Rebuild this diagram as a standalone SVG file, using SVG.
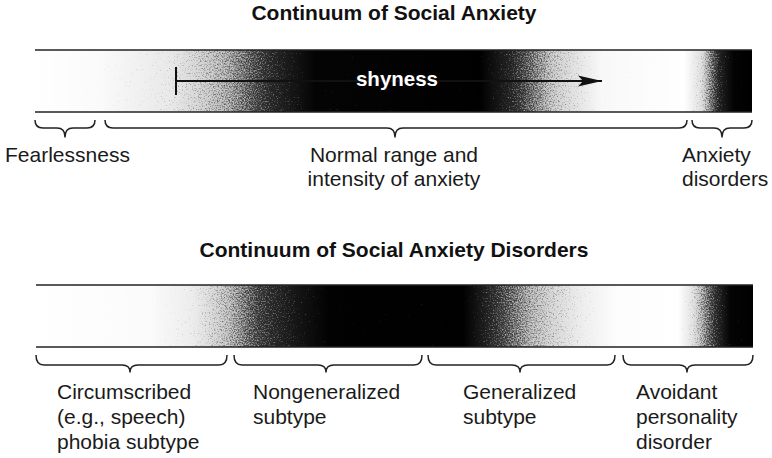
<svg xmlns="http://www.w3.org/2000/svg" width="772" height="458" viewBox="0 0 772 458">
<defs>
<style>
.title{font-family:"Liberation Sans",Arial,sans-serif;font-weight:bold;font-size:21px;fill:#111;text-anchor:middle}
.lbl{font-family:"Liberation Sans",Arial,sans-serif;font-size:21px;fill:#1a1a1a}
.edge{stroke:#222;stroke-width:1.6;fill:none}
.brace{stroke:#222;stroke-width:1.5;fill:none;stroke-linejoin:round}
.shy{font-family:"Liberation Sans",Arial,sans-serif;font-weight:bold;font-size:20.5px;fill:#fff;text-anchor:middle}
.bar{filter:url(#grain)}
</style>
<filter id="grain" x="0" y="0" width="100%" height="100%" color-interpolation-filters="sRGB">
<feTurbulence type="fractalNoise" baseFrequency="0.75" numOctaves="2" seed="7" result="n"/>
<feColorMatrix in="n" type="matrix" values="1 0 0 0 0.2  1 0 0 0 0.2  1 0 0 0 0.2  0 0 0 0 1" result="g"/>
<feComposite in="SourceGraphic" in2="g" operator="arithmetic" k1="0" k2="2.5" k3="-2.5" k4="1" result="d"/>
<feComposite in="SourceGraphic" in2="d" operator="arithmetic" k1="0" k2="0.55" k3="0.45" k4="0"/>
</filter>
<linearGradient id="g1" gradientUnits="userSpaceOnUse" x1="35" y1="0" x2="752" y2="0">
<stop offset="0" stop-color="#fff"/>
<stop offset="0.09" stop-color="#f6f6f6"/>
<stop offset="0.19" stop-color="#d6d6d6"/>
<stop offset="0.27" stop-color="#959595"/>
<stop offset="0.33" stop-color="#444"/>
<stop offset="0.39" stop-color="#080808"/>
<stop offset="0.62" stop-color="#000"/>
<stop offset="0.67" stop-color="#4a4a4a"/>
<stop offset="0.72" stop-color="#a8a8a8"/>
<stop offset="0.79" stop-color="#f2f2f2"/>
<stop offset="0.905" stop-color="#fff"/>
<stop offset="0.93" stop-color="#c4c4c4"/>
<stop offset="0.955" stop-color="#3a3a3a"/>
<stop offset="0.975" stop-color="#050505"/>
<stop offset="1" stop-color="#000"/>
</linearGradient>
<linearGradient id="g2" gradientUnits="userSpaceOnUse" x1="36" y1="0" x2="753" y2="0">
<stop offset="0" stop-color="#fff"/>
<stop offset="0.16" stop-color="#f7f7f7"/>
<stop offset="0.22" stop-color="#dcdcdc"/>
<stop offset="0.27" stop-color="#a0a0a0"/>
<stop offset="0.312" stop-color="#585858"/>
<stop offset="0.368" stop-color="#222"/>
<stop offset="0.41" stop-color="#030303"/>
<stop offset="0.595" stop-color="#000"/>
<stop offset="0.635" stop-color="#454545"/>
<stop offset="0.69" stop-color="#9c9c9c"/>
<stop offset="0.76" stop-color="#dedede"/>
<stop offset="0.81" stop-color="#fbfbfb"/>
<stop offset="0.895" stop-color="#fff"/>
<stop offset="0.917" stop-color="#c8c8c8"/>
<stop offset="0.945" stop-color="#555"/>
<stop offset="0.968" stop-color="#080808"/>
<stop offset="1" stop-color="#000"/>
</linearGradient>
<marker id="ah" viewBox="0 0 24 12" refX="24" refY="6" markerWidth="24" markerHeight="12" markerUnits="userSpaceOnUse" orient="auto">
<path d="M0,0.5 L24,6 L0,11.5 L5,6 Z" fill="#111"/>
</marker>
</defs>
<rect width="772" height="458" fill="#fff"/>

<g id="title1"><text class="title" x="394" y="20">Continuum of Social Anxiety</text></g>

<g id="bar1">
<rect class="bar" x="35" y="50" width="717" height="62" fill="url(#g1)"/>
<line class="edge" x1="35" y1="50" x2="752" y2="50"/>
<line class="edge" x1="35" y1="112" x2="752" y2="112"/>
</g>

<g id="shyness">
<line x1="176" y1="67" x2="176" y2="95" stroke="#111" stroke-width="2"/>
<line x1="176" y1="81" x2="602" y2="81" stroke="#111" stroke-width="2" marker-end="url(#ah)"/>
<text class="shy" x="397" y="86">shyness</text>
</g>

<g id="connectors">
<path class="brace" d="M35,120 Q35,128 43,128 L57,128 Q65,128 65,137 Q65,128 73,128 L87,128 Q95,128 95,120"/>
<path class="brace" d="M105,120 Q105,128 113,128 L387,128 Q395,128 395,137 Q395,128 403,128 L679,128 Q687,128 687,120"/>
<path class="brace" d="M692,120 Q692,128 700,128 L714,128 Q722,128 722,137 Q722,128 730,128 L744,128 Q752,128 752,120"/>
<path class="brace" d="M36,355 Q36,365 44,365 L122,365 Q130,365 130,372 Q130,365 138,365 L219,365 Q227,365 227,355"/>
<path class="brace" d="M234,355 Q234,365 242,365 L318,365 Q326,365 326,372 Q326,365 334,365 L414,365 Q422,365 422,355"/>
<path class="brace" d="M428,355 Q428,365 436,365 L512,365 Q520,365 520,372 Q520,365 528,365 L607,365 Q615,365 615,355"/>
<path class="brace" d="M623,355 Q623,365 631,365 L679,365 Q687,365 687,372 Q687,365 695,365 L745,365 Q753,365 753,355"/>
</g>

<g id="fearlessness"><text class="lbl" x="5" y="162">Fearlessness</text></g>
<g id="normal">
<text class="lbl" x="394" y="162" text-anchor="middle">Normal range and</text>
<text class="lbl" x="394" y="186" text-anchor="middle">intensity of anxiety</text>
</g>
<g id="anxiety-disorders">
<text class="lbl" x="682" y="162">Anxiety</text>
<text class="lbl" x="682" y="186">disorders</text>
</g>

<g id="title2"><text class="title" x="394" y="257">Continuum of Social Anxiety Disorders</text></g>

<g id="bar2">
<rect class="bar" x="36" y="285" width="717" height="62" fill="url(#g2)"/>
<line class="edge" x1="36" y1="285" x2="753" y2="285"/>
<line class="edge" x1="36" y1="347" x2="753" y2="347"/>
</g>

<g id="circumscribed">
<text class="lbl" x="57" y="399">Circumscribed</text>
<text class="lbl" x="57" y="424">(e.g., speech)</text>
<text class="lbl" x="57" y="449">phobia subtype</text>
</g>
<g id="nongeneralized">
<text class="lbl" x="253" y="399">Nongeneralized</text>
<text class="lbl" x="253" y="424">subtype</text>
</g>
<g id="generalized">
<text class="lbl" x="463" y="399">Generalized</text>
<text class="lbl" x="463" y="424">subtype</text>
</g>
<g id="avoidant">
<text class="lbl" x="636" y="399">Avoidant</text>
<text class="lbl" x="636" y="424">personality</text>
<text class="lbl" x="636" y="449">disorder</text>
</g>
</svg>
